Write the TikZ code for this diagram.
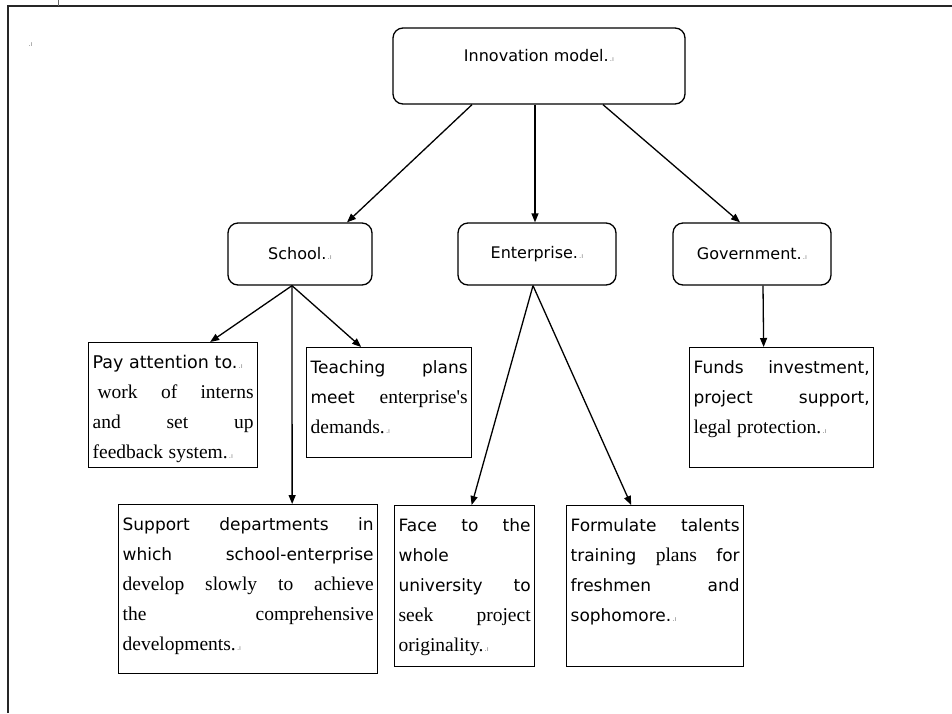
\documentclass[tikz,border=0pt]{standalone}
\usepackage{fontspec}
\setmainfont{DejaVu Sans}
\newfontfamily\serifface{Liberation Serif}
\usetikzlibrary{arrows.meta}
\newcommand{\pmk}{{\color{black!50}\fontsize{7}{7}\selectfont\,.ı}}
\newcommand{\jl}[1]{\makebox[\linewidth][s]{\spaceskip=0pt\xspaceskip=0pt #1}\\}
\newcommand{\sr}[1]{{\serifface\fontsize{19.5}{30}\selectfont #1}}

\begin{document}
\begin{tikzpicture}[x=1pt,y=-1pt,line width=1.3pt,
  >={Triangle[length=9pt,width=7pt]},
  rbox/.style={draw, rounded corners=10pt, inner sep=0pt, font=\fontsize{16}{19}\selectfont},
  tbox/.style={draw, anchor=north west, inner xsep=4pt, inner ysep=0pt, text height=26pt,
    align=left, font=\fontsize{17}{30}\selectfont}]
\useasboundingbox (0,0) rectangle (952,713);
%[frame of the page]
\draw [line width=2pt, black!85] (8,713) -- (8,6) -- (952,6);
\draw [line width=0.6pt, black!60] (58,0) -- (58,6);
\path (30,45) node (mark) {\pmk};

\path (539,66) node (inno) [rbox, minimum width=292pt, minimum height=76pt] {\raisebox{5pt}[0pt][0pt]{Innovation model.\pmk}};
\path (300,254) node (school) [rbox, minimum width=144pt, minimum height=62pt] {School.\pmk};
\path (537,254) node (enter) [rbox, minimum width=158pt, minimum height=62pt] {Enterprise.\pmk};
\path (752,254) node (gov) [rbox, minimum width=158pt, minimum height=62pt] {Government.\pmk};

\draw [->] ([xshift=-67pt]inno.south) to ([xshift=47pt]school.north);
\draw [->] ([xshift=-4pt]inno.south) to ([xshift=-2pt]enter.north);
\draw [->] ([xshift=64pt]inno.south) to ([xshift=-12pt]gov.north);

\path (88,342) node (pay) [tbox, text width=161pt, text depth=99pt]
  {{\fontsize{17.5}{30}\selectfont Pay attention to.}\pmk\\ \jl{\hspace*{5pt}\sr{work of interns}}\jl{\sr{and set up}}\sr{feedback system.}\pmk};
\path (306,347) node (teach) [tbox, text width=157pt, text depth=84pt]
  {\jl{Teaching plans}\jl{meet \sr{enterprise's}}\sr{demands.}\pmk};
\path (689,347) node (funds) [tbox, text width=176pt, text depth=94pt]
  {\jl{Funds investment,}\jl{project support,}\sr{legal protection.}\pmk};
\path (118,504) node (support) [tbox, text width=251pt, text depth=143pt]
  {\jl{Support departments in}\jl{which school-enterprise}\jl{\sr{develop slowly to achieve}}\jl{\sr{the comprehensive}}\sr{developments.}\pmk};
\path (394,505) node (face) [tbox, text width=132pt, text depth=135pt]
  {\jl{Face to the}whole\\ \jl{university to}\jl{\sr{seek project}}\sr{originality.}\pmk};
\path (566,505) node (form) [tbox, text width=169pt, text depth=135pt]
  {\jl{Formulate talents}\jl{training \sr{plans} for}\jl{freshmen and}sophomore.\pmk};

\draw [->] ([xshift=-8pt]school.south) to ([xshift=37pt]pay.north);
\draw [->] ([xshift=-8pt]school.south) to ([xshift=-28pt]teach.north);
\draw [->] ([xshift=-8pt]school.south) to ([xshift=44pt]support.north);

\draw [->] ([xshift=-4pt]enter.south) to ([xshift=7pt]face.north);
\draw [->] ([xshift=-4pt]enter.south) to ([xshift=-24pt]form.north);

\draw [->] ([xshift=11pt]gov.south) to ([xshift=-18pt]funds.north);

\end{tikzpicture}
\end{document}
